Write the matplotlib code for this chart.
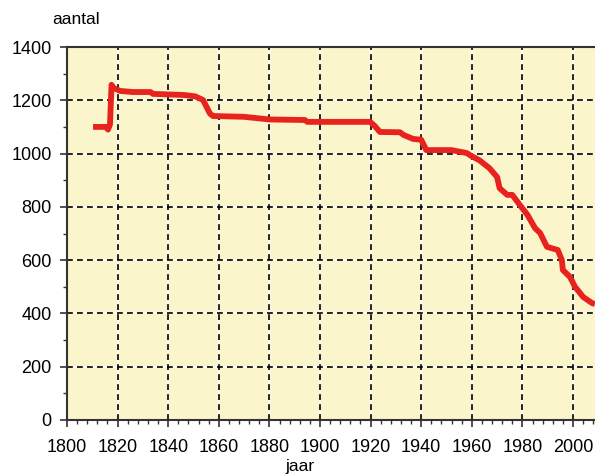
import matplotlib
matplotlib.use("Agg")
import matplotlib.pyplot as plt
from matplotlib.ticker import MultipleLocator

years = [1810.3, 1815.4, 1816.2, 1817.0, 1817.6, 1818.5, 1821, 1826, 1833, 1834,
         1840, 1846, 1850.6, 1853.8, 1856.5, 1857.7, 1866, 1870, 1880, 1894, 1895,
         1919.8, 1921.5, 1923.7, 1931.6, 1933, 1936.8, 1940, 1942, 1952, 1958,
         1960, 1963, 1967, 1970, 1971, 1974, 1976, 1979, 1982, 1985, 1987, 1989.7,
         1994, 1995.6, 1996, 1998.8, 2000.8, 2004, 2007.5, 2008.7]
aantal = [1100, 1100, 1090, 1110, 1258, 1246, 1235, 1231, 1231, 1224,
          1222, 1220, 1215, 1201, 1150, 1141, 1139, 1138, 1128, 1126, 1119,
          1119, 1105, 1081, 1080, 1070, 1055, 1052, 1013, 1013, 1002,
          990, 975, 945, 912, 870, 845, 845, 807, 770, 720, 702, 650,
          638, 600, 563, 537, 500, 462, 439, 435]

xticks = list(range(1800, 2001, 20))
yticks = list(range(0, 1401, 200))

plt.rcParams['font.family'] = ['Liberation Sans', 'DejaVu Sans']

fig = plt.figure(figsize=(5.95, 4.76), dpi=100)
ax = fig.add_axes([67/595, 1-420/476, 1-67/595, (420-47)/476])
ax.set_facecolor('#FBF5CB')

ax.plot(years, aantal, color='#E8231E', lw=4.2, solid_capstyle='butt', zorder=3)

ax.set_xlim(1800, 2008.7)
ax.set_ylim(0, 1400)
ax.set_xticks(xticks)
ax.set_yticks(yticks)
ax.xaxis.set_minor_locator(MultipleLocator(4))
ax.yaxis.set_minor_locator(MultipleLocator(100))
ax.tick_params(axis='both', which='major', direction='out', length=5, width=1.2,
               labelsize=13, color='#333333')
ax.tick_params(axis='x', which='major', pad=9)
ax.tick_params(axis='y', which='major', pad=6)
ax.tick_params(axis='both', which='minor', direction='out', length=3, width=1.0, color='#333333')

# white solid under black dashes
ax.grid(True, which='major', color='white', linestyle='-', linewidth=1.2, zorder=1)
ax.vlines(xticks[1:], 0, 1400, colors='black', linestyles=(0, (3.5, 2.5)), linewidth=1.2, zorder=2)
ax.hlines(yticks[1:-1], 1800, 2008.7, colors='black', linestyles=(0, (3.5, 2.5)), linewidth=1.2, zorder=2)

for s in ['top', 'left', 'bottom']:
    ax.spines[s].set_color('#333333')
    ax.spines[s].set_linewidth(1.5)
ax.spines['right'].set_visible(False)

fig.text(52/595, 1-20/476, 'aantal', fontsize=12.5, ha='left', va='center')
fig.text(300/595, 1-467/476, 'jaar', fontsize=12.5, ha='center', va='center')

fig.savefig('out.png', dpi=100)
